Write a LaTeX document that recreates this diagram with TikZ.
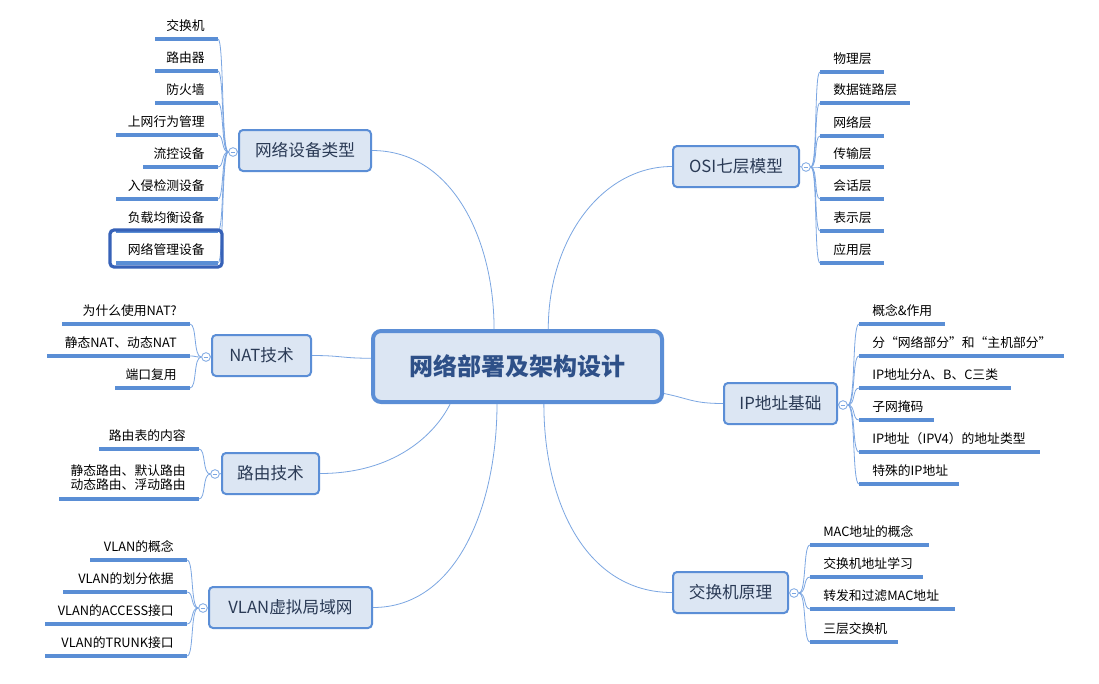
\documentclass[tikz,border=0pt]{standalone}
\usepackage{fontspec}
\setmainfont{Noto Sans CJK SC}
\usetikzlibrary{calc}
\definecolor{boxfill}{HTML}{DCE6F3}
\definecolor{boxline}{HTML}{5B8ED6}
\definecolor{leafblue}{HTML}{5A8ED5}
\definecolor{branchblue}{HTML}{7BA6E2}
\definecolor{topictext}{HTML}{2A3A55}
\definecolor{centertext}{HTML}{2E5088}
\definecolor{selblue}{HTML}{3762B8}
\tikzset{
  topic/.style={draw=boxline, fill=boxfill, line width=1.5pt, rounded corners=3pt,
    font=\fontsize{12.5}{14}\selectfont, text=topictext, inner sep=0pt, minimum height=30.75pt},
  leaftext/.style={font=\fontsize{9.6}{12}\selectfont, text=black, inner sep=0pt},
  leafline/.style={draw=leafblue, line width=2.3pt},
  branch/.style={draw=branchblue, line width=0.6pt},
  fold/.style={circle, draw=branchblue, fill=white, line width=0.6pt, minimum size=6.5pt, inner sep=0pt,
    path picture={\draw[branchblue, line width=0.5pt] ([xshift=-1.8pt]path picture bounding box.center) -- ([xshift=1.8pt]path picture bounding box.center);}},
}
% #1 name, #2 underline y, #3 x start, #4 x end, #5 text
\newcommand{\leafL}[5]{%
  \coordinate (#1-s) at (#3,#2); \coordinate (#1-e) at (#4,#2);
  \draw[leafline] (#1-s) -- (#1-e);
  \node[leaftext, anchor=east] (#1) at (#4-13,#2-13) {#5};}
\newcommand{\leafR}[5]{%
  \coordinate (#1-s) at (#3,#2); \coordinate (#1-e) at (#4,#2);
  \draw[leafline] (#1-s) -- (#1-e);
  \node[leaftext, anchor=west] (#1) at (#3+13,#2-13) {#5};}
\begin{document}
\begin{tikzpicture}[x=0.75pt, y=-0.75pt]
\useasboundingbox (0,0) rectangle (1099,683);
\fill[white] (0,0) rectangle (1099,683);

% ---------- central node
\node[draw=boxline, fill=boxfill, line width=3pt, rounded corners=6pt, minimum width=216.75pt, minimum height=53.25pt,
  inner sep=0pt, font=\fontsize{18}{20}\selectfont\bfseries, text=centertext] (c) at (517.5,366.5) {网络部署及架构设计};
\coordinate (cn1) at ($(c.north west)!0.42!(c.north east)$);
\coordinate (cn2) at ($(c.north west)!0.605!(c.north east)$);
\coordinate (cs1) at ($(c.south west)!0.27!(c.south east)$);
\coordinate (cs2) at ($(c.south west)!0.43!(c.south east)$);
\coordinate (cs3) at ($(c.south west)!0.59!(c.south east)$);
\coordinate (cw) at ($(c.north west)!0.39!(c.south west)$);
\coordinate (ce) at ($(c.north east)!0.86!(c.south east)$);

% ---------- topics
\node[topic, minimum width=99pt] (t1) at (305,150.5) {网络设备类型};
\node[topic, minimum width=94.5pt] (t2) at (736,166.5) {OSI七层模型};
\node[topic, minimum width=74.25pt] (t3) at (261.5,355.5) {NAT技术};
\node[topic, minimum width=72.75pt] (t4) at (270.5,473.5) {路由技术};
\node[topic, minimum width=84.75pt] (t5) at (780.5,403.5) {IP地址基础};
\node[topic, minimum width=122.25pt] (t6) at (290.5,607.5) {VLAN虚拟局域网};
\node[topic, minimum width=86.25pt] (t7) at (730.5,592.5) {交换机原理};

% ---------- central connectors
\draw[branch] (t1.east) .. controls +(80,0) and +(0,-90) .. (cn1);
\draw[branch] (t2.west) .. controls +(-70,0) and +(0,-90) .. (cn2);
\draw[branch] (t3.east) .. controls +(30,0) and +(-30,0) .. (cw);
\draw[branch] (t4.east) .. controls +(75,0) and +(-15,30) .. (cs1);
\draw[branch] (t5.west) .. controls +(-30,0) and +(25,5) .. (ce);
\draw[branch] (t6.east) .. controls +(85,0) and +(0,100) .. (cs2);
\draw[branch] (t7.west) .. controls +(-85,0) and +(0,100) .. (cs3);

% ---------- fold circles
\node[fold] (f1) at (233,152) {};
\node[fold] (f2) at (806,167) {};
\node[fold] (f3) at (206,357) {};
\node[fold] (f4) at (215,474) {};
\node[fold] (f5) at (843,405) {};
\node[fold] (f6) at (203,608) {};
\node[fold] (f7) at (794,593) {};
\draw[branch] (t1.west) -- (f1.east);
\draw[branch] (t2.east) -- (f2.west);
\draw[branch] (t3.west) -- (f3.east);
\draw[branch] (t4.west) -- (f4.east);
\draw[branch] (t5.east) -- (f5.west);
\draw[branch] (t6.west) -- (f6.east);
\draw[branch] (t7.east) -- (f7.west);

% ---------- 网络设备类型
\leafL{a1}{39}{155}{218}{交换机}
\leafL{a2}{71}{155}{218}{路由器}
\leafL{a3}{103}{155}{218}{防火墙}
\leafL{a4}{135}{116}{218}{上网行为管理}
\leafL{a5}{167}{143}{218}{流控设备}
\leafL{a6}{199}{116}{218}{入侵检测设备}
\leafL{a7}{231}{116}{218}{负载均衡设备}
\leafL{a8}{263}{116}{218}{网络管理设备}
\foreach \k in {a1,a2,a3,a4,a5,a6,a7,a8}
  \draw[branch] (f1.west) .. controls +(-7,0) and +(6,0) .. (\k-e);
\node[draw=selblue, line width=2.4pt, rounded corners=3pt, minimum width=84pt, minimum height=27.75pt, inner sep=0pt] (sel) at (166,248.5) {};

% ---------- OSI七层模型
\leafR{b1}{72}{820}{884}{物理层}
\leafR{b2}{103}{820}{910}{数据链路层}
\leafR{b3}{136}{820}{884}{网络层}
\leafR{b4}{167}{820}{884}{传输层}
\leafR{b5}{199}{820}{884}{会话层}
\leafR{b6}{231}{820}{884}{表示层}
\leafR{b7}{263}{820}{884}{应用层}
\foreach \k in {b1,b2,b3,b4,b5,b6,b7}
  \draw[branch] (f2.east) .. controls +(7,0) and +(-6,0) .. (\k-s);

% ---------- NAT技术
\leafL{n1}{324}{62}{190}{为什么使用NAT?}
\leafL{n2}{356}{47}{190}{静态NAT、动态NAT}
\leafL{n3}{388}{115}{190}{端口复用}
\foreach \k in {n1,n2,n3}
  \draw[branch] (f3.west) .. controls +(-8,0) and +(7,0) .. (\k-e);

% ---------- 路由技术
\leafL{r1}{449}{99}{199}{路由表的内容}
\coordinate (r2-s) at (59,499); \coordinate (r2-e) at (199,499);
\draw[leafline] (r2-s) -- (r2-e);
\node[leaftext, anchor=east, align=center] (r2) at (186,477.5) {静态路由、默认路由\\[-1pt]动态路由、浮动路由};
\foreach \k in {r1,r2}
  \draw[branch] (f4.west) .. controls +(-8,0) and +(7,0) .. (\k-e);

% ---------- IP地址基础
\leafR{p1}{324}{859}{945}{概念\&作用}
\leafR{p2}{356}{859}{1064}{分“网络部分”和“主机部分”}
\leafR{p3}{388}{859}{1011}{IP地址分A、B、C三类}
\leafR{p4}{420}{859}{934}{子网掩码}
\leafR{p5}{452}{859}{1040}{IP地址（IPV4）的地址类型}
\leafR{p6}{484}{859}{959}{特殊的IP地址}
\foreach \k in {p1,p2,p3,p4,p5,p6}
  \draw[branch] (f5.east) .. controls +(8,0) and +(-7,0) .. (\k-s);

% ---------- VLAN虚拟局域网
\leafL{v1}{560}{90}{187}{VLAN的概念}
\leafL{v2}{592}{63}{187}{VLAN的划分依据}
\leafL{v3}{624}{45}{187}{VLAN的ACCESS接口}
\leafL{v4}{656}{45}{187}{VLAN的TRUNK接口}
\foreach \k in {v1,v2,v3,v4}
  \draw[branch] (f6.west) .. controls +(-8,0) and +(7,0) .. (\k-e);

% ---------- 交换机原理
\leafR{s1}{545}{810}{929}{MAC地址的概念}
\leafR{s2}{577}{810}{923}{交换机地址学习}
\leafR{s3}{609}{810}{955}{转发和过滤MAC地址}
\leafR{s4}{642}{810}{898}{三层交换机}
\foreach \k in {s1,s2,s3,s4}
  \draw[branch] (f7.east) .. controls +(8,0) and +(-7,0) .. (\k-s);
\end{tikzpicture}
\end{document}
